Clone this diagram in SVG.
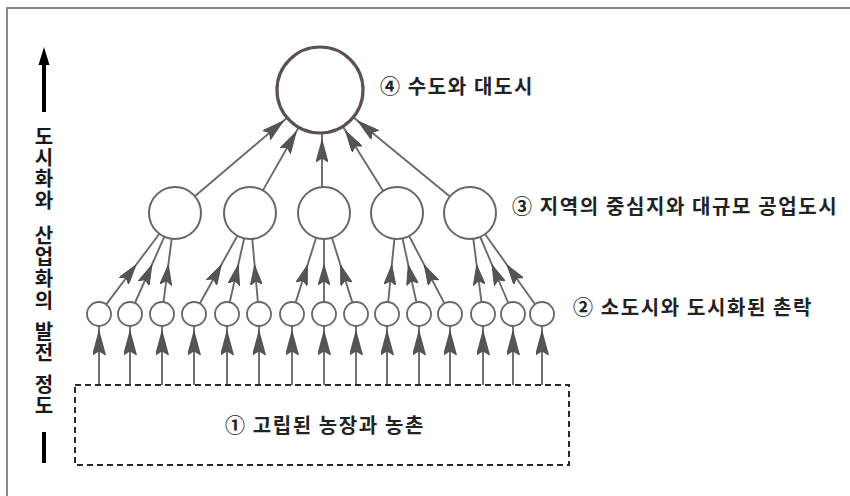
<svg xmlns="http://www.w3.org/2000/svg" width="850" height="496" viewBox="0 0 850 496">
<style>
.lbl{font-family:"Noto Sans CJK KR","Noto Sans",sans-serif;font-weight:bold;font-size:20px;letter-spacing:1.6px;fill:#222}
.vt{font-family:"Noto Sans CJK KR","Noto Sans",sans-serif;font-weight:bold;font-size:20px;fill:#1a1a1a}
.sc{fill:#fff;stroke:#6a6568;stroke-width:1.8}
.mc{fill:#fff;stroke:#6a6568;stroke-width:2}
.tc{fill:#fff;stroke:#5e4f55;stroke-width:3.2}
.cn{fill:none;stroke:#6a6a6a;stroke-width:1.9}
</style>
<defs>
<marker id="ah" markerUnits="userSpaceOnUse" viewBox="0 0 20 12" markerWidth="20" markerHeight="12" refX="20" refY="6" orient="auto">
<path d="M20,6 L0,0 L4,6 L0,12 Z" fill="#555" stroke="#444" stroke-width="0.8"/>
</marker>
<marker id="ahb" markerUnits="userSpaceOnUse" viewBox="0 0 24 13" markerWidth="24" markerHeight="13" refX="24" refY="6.5" orient="auto">
<path d="M24,6.5 L0,0 L4,6.5 L0,13 Z" fill="#555" stroke="#444" stroke-width="0.8"/>
</marker>
<marker id="aht" markerUnits="userSpaceOnUse" viewBox="0 0 22 12" markerWidth="22" markerHeight="12" refX="22" refY="6" orient="auto">
<path d="M22,6 L0,0 L4,6 L0,12 Z" fill="#555" stroke="#444" stroke-width="0.8"/>
</marker>
</defs>
<rect x="7" y="8" width="900" height="600" fill="none" stroke="#888" stroke-width="2"/>
<g id="axis">
<line x1="44" y1="112" x2="44" y2="60" stroke="#000" stroke-width="4"/>
<polygon points="44,47 38.5,65 49.5,65" fill="#000"/>
<rect x="42" y="432" width="4" height="31" fill="#000"/>
<text class="vt" text-anchor="middle">
<tspan x="44" y="144">도</tspan><tspan x="44" y="165">시</tspan><tspan x="44" y="186">화</tspan><tspan x="44" y="208">와</tspan><tspan x="44" y="243">산</tspan><tspan x="44" y="264">업</tspan><tspan x="44" y="286">화</tspan><tspan x="44" y="308">의</tspan><tspan x="44" y="339">발</tspan><tspan x="44" y="360">전</tspan><tspan x="44" y="392">정</tspan><tspan x="44" y="413">도</tspan>
</text>
</g>
<g id="connectors">
<g marker-mid="url(#ahb)" class="cn">
<path d="M99,385 L99,331 L99,326"/><path d="M130,385 L130,331 L130,326"/><path d="M162,385 L162,331 L162,326"/>
<path d="M194,385 L194,331 L194,326"/><path d="M227,385 L227,331 L227,326"/><path d="M259,385 L259,331 L259,326"/>
<path d="M292,385 L292,331 L292,326"/><path d="M324,385 L324,331 L324,326"/><path d="M356,385 L356,331 L356,326"/>
<path d="M387,385 L387,331 L387,326"/><path d="M419,385 L419,331 L419,326"/><path d="M450,385 L450,331 L450,326"/>
<path d="M483,385 L483,331 L483,326"/><path d="M513,385 L513,331 L513,326"/><path d="M542,385 L542,331 L542,326"/>
</g>
<g marker-mid="url(#ah)" class="cn">
<path d="M106.2,304.4 L135.9,265 L159.4,233.8"/>
<path d="M134.9,303 L151.8,265 L164.4,236.7"/>
<path d="M163.5,302.1 L168.3,265 L171.7,238.8"/>
<path d="M199.8,303.5 L221.2,265 L237.4,235.7"/>
<path d="M229.7,302.3 L238.2,265 L244.2,238.3"/>
<path d="M257.9,302 L254.6,265 L252.3,238.9"/>
<path d="M295.6,302.6 L307.5,265 L316.1,237.8"/>
<path d="M324,302 L324,265 L324,239"/>
<path d="M352.4,302.6 L340.5,265 L331.9,237.8"/>
<path d="M388.2,302.1 L391.8,265 L394.4,238.9"/>
<path d="M416.4,302.3 L408.3,265 L402.5,238.4"/>
<path d="M444.4,303.4 L424.3,265 L409.1,236"/>
<path d="M481.5,302.1 L476.7,265 L473.3,238.8"/>
<path d="M508.3,303 L492.1,265 L480.2,236.9"/>
<path d="M535,304.2 L507.1,265 L485.1,234.2"/>
</g>
<g marker-mid="url(#aht)" class="cn">
<path d="M194.8,196.2 L283.4,121 L287.2,117.8"/>
<path d="M262.9,190.4 L296.2,131.7 L298.7,127.4"/>
<path d="M322,187 L322,140 L322,133"/>
<path d="M383.2,191 L345.5,130.7 L342.8,126.5"/>
<path d="M449.9,196.5 L357.9,121.1 L353.2,117.3"/>
</g>
</g>
<g id="level1">
<rect x="75" y="385" width="494" height="80" fill="none" stroke="#2a2a2a" stroke-width="2" stroke-dasharray="6,4"/>
<text class="lbl" x="325" y="433" text-anchor="middle">① 고립된 농장과 농촌</text>
</g>
<g id="level2">
<circle class="sc" cx="99" cy="314" r="12"/><circle class="sc" cx="130" cy="314" r="12"/><circle class="sc" cx="162" cy="314" r="12"/>
<circle class="sc" cx="194" cy="314" r="12"/><circle class="sc" cx="227" cy="314" r="12"/><circle class="sc" cx="259" cy="314" r="12"/>
<circle class="sc" cx="292" cy="314" r="12"/><circle class="sc" cx="324" cy="314" r="12"/><circle class="sc" cx="356" cy="314" r="12"/>
<circle class="sc" cx="387" cy="314" r="12"/><circle class="sc" cx="419" cy="314" r="12"/><circle class="sc" cx="450" cy="314" r="12"/>
<circle class="sc" cx="483" cy="314" r="12"/><circle class="sc" cx="513" cy="314" r="12"/><circle class="sc" cx="542" cy="314" r="12"/>
<text class="lbl" x="573" y="315">② 소도시와 도시화된 촌락</text>
</g>
<g id="level3">
<circle class="mc" cx="175" cy="213" r="26"/><circle class="mc" cx="250" cy="213" r="26"/><circle class="mc" cx="324" cy="213" r="26"/>
<circle class="mc" cx="397" cy="213" r="26"/><circle class="mc" cx="470" cy="213" r="26"/>
<text class="lbl" x="512" y="214">③ 지역의 중심지와 대규모 공업도시</text>
</g>
<g id="level4">
<circle class="tc" cx="320" cy="90" r="43"/>
<text class="lbl" x="380" y="94">④ 수도와 대도시</text>
</g>
</svg>
